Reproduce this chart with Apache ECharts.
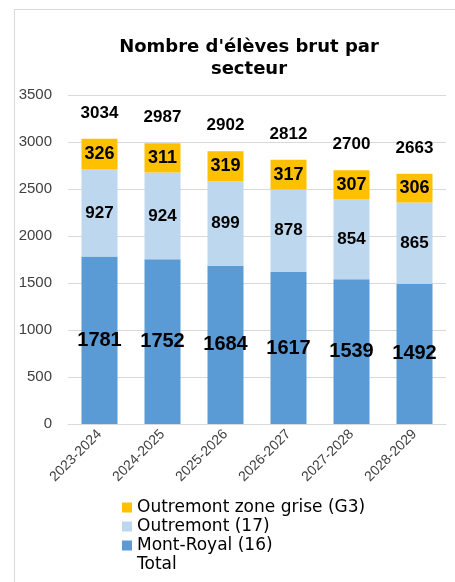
<!DOCTYPE html>
<html>
<head>
<meta charset="utf-8">
<script src="https://cdn.jsdelivr.net/npm/echarts@6/dist/echarts.min.js"></script>
<style>
  body { margin: 0; background: #fff; }
  #frame {
    position: absolute; left: 14px; top: 9px;
    width: 600px; height: 700px;
    border: 1px solid #d9d9d9;
  }
  #chart { position: absolute; left: 0; top: 0; width: 455px; height: 582px; }
</style>
</head>
<body>
<div id="frame"></div>
<div id="chart"></div>
<script>
  // annees scolaires
  var categories = ['2023-2024', '2024-2025', '2025-2026', '2026-2027', '2027-2028', '2028-2029'];
  var montRoyal = [1781, 1752, 1684, 1617, 1539, 1492];
  var outremont = [927, 924, 899, 878, 854, 865];
  var zoneGrise = [326, 311, 319, 317, 307, 306];
  var totals = [3034, 2987, 2902, 2812, 2700, 2663];
  var yTicks = [0, 500, 1000, 1500, 2000, 2500, 3000, 3500];

  var numFont = 'Liberation Sans';

  var chart = echarts.init(document.getElementById('chart'));
  chart.setOption({
    animation: false,
    title: {
      text: "Nombre d'élèves brut par\nsecteur",
      left: 244,
      textAlign: 'center',
      top: 31,
      textStyle: {
        fontFamily: 'DejaVu Sans',
        fontSize: 18,
        fontWeight: 'bold',
        color: '#000',
        lineHeight: 22
      }
    },
    grid: {
      left: 68,
      right: 9,
      top: 95,
      bottom: 158
    },
    legend: {
      orient: 'vertical',
      left: 122,
      top: 499,
      padding: 0,
      height: 90,
      itemWidth: 10,
      itemHeight: 10,
      itemGap: 2,
      icon: 'rect',
      textStyle: {
        fontFamily: 'DejaVu Sans',
        fontSize: 17,
        color: '#000'
      },
      data: [
        'Outremont zone grise (G3)',
        'Outremont (17)',
        'Mont-Royal (16)',
        { name: 'Total', itemStyle: { opacity: 0 } }
      ]
    },
    xAxis: {
      type: 'category',
      data: categories,
      axisTick: { show: false },
      axisLine: { lineStyle: { color: '#d9d9d9' } },
      axisLabel: {
        rotate: 45,
        margin: 8,
        fontFamily: numFont,
        fontSize: 14,
        color: '#404040'
      }
    },
    yAxis: {
      type: 'value',
      min: yTicks[0],
      max: yTicks[yTicks.length - 1],
      interval: 500,
      axisLine: { show: false },
      axisTick: { show: false },
      splitLine: { lineStyle: { color: '#d9d9d9' } },
      axisLabel: {
        margin: 16,
        fontFamily: numFont,
        fontSize: 15,
        color: '#404040',
        formatter: function (v) { return String(v); }
      }
    },
    series: [
      {
        name: 'Mont-Royal (16)',
        type: 'bar',
        stack: 'total',
        barWidth: 36,
        data: montRoyal,
        itemStyle: { color: '#5b9bd5' },
        label: {
          show: true,
          position: 'inside',
          fontFamily: numFont,
          fontSize: 20,
          fontWeight: 'bold',
          color: '#000'
        }
      },
      {
        name: 'Outremont (17)',
        type: 'bar',
        stack: 'total',
        data: outremont,
        itemStyle: { color: '#bdd7ee' },
        label: {
          show: true,
          position: 'inside',
          fontFamily: numFont,
          fontSize: 17,
          fontWeight: 'bold',
          color: '#000'
        }
      },
      {
        name: 'Outremont zone grise (G3)',
        type: 'bar',
        stack: 'total',
        data: zoneGrise,
        itemStyle: { color: '#ffc000' },
        label: {
          show: true,
          position: 'inside',
          fontFamily: numFont,
          fontSize: 18,
          fontWeight: 'bold',
          color: '#000'
        }
      },
      {
        name: 'Total',
        type: 'line',
        data: totals,
        symbol: 'circle',
        symbolSize: 2,
        showSymbol: true,
        lineStyle: { opacity: 0 },
        itemStyle: { color: 'rgba(0,0,0,0)' },
        label: {
          show: true,
          position: 'top',
          distance: 16,
          fontFamily: numFont,
          fontSize: 17,
          fontWeight: 'bold',
          color: '#000'
        }
      }
    ]
  });
</script>
</body>
</html>
